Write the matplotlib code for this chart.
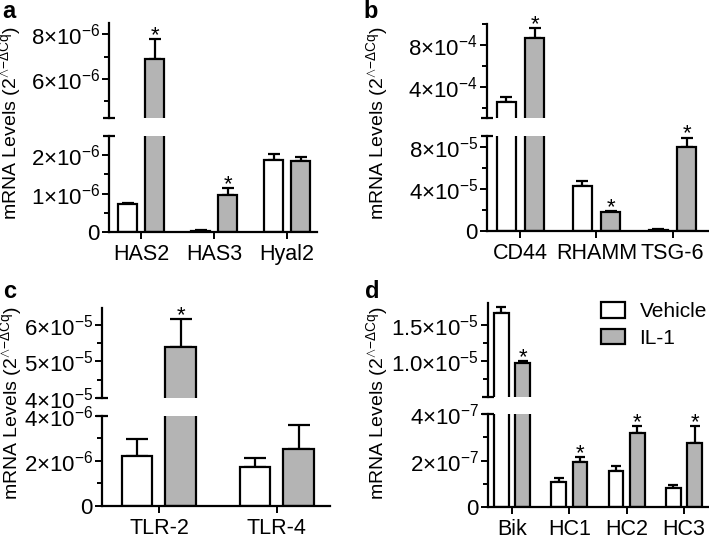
import numpy as np
import matplotlib
matplotlib.use("Agg")
import matplotlib.pyplot as plt
from matplotlib.patches import Patch

plt.rcParams['font.family'] = ['Liberation Sans', 'DejaVu Sans']
plt.rcParams['mathtext.fontset'] = 'custom'
plt.rcParams['mathtext.rm'] = 'Liberation Sans'
plt.rcParams['mathtext.it'] = 'Liberation Sans:italic'
plt.rcParams['mathtext.bf'] = 'Liberation Sans:bold'

W, H = 709, 536
GREY = '#b4b4b4'

# ---- data ----
# panel a
a_genes = ['HAS2', 'HAS3', 'Hyal2']
a_veh = [0.72e-6, 0.03e-6, 1.87e-6]
a_veh_err = [0.03e-6, 0.01e-6, 0.16e-6]
a_il1 = [6.9e-6, 0.97e-6, 1.86e-6]
a_il1_err = [0.9e-6, 0.18e-6, 0.10e-6]
a_sig = [True, True, False]
a_top_ticks = [6e-6, 8e-6]
a_top_labels = [r'$\mathregular{6{\times}10^{-6}}$', r'$\mathregular{8{\times}10^{-6}}$']
a_bot_ticks = [0, 1e-6, 2e-6]
a_bot_labels = ['0', r'$\mathregular{1{\times}10^{-6}}$', r'$\mathregular{2{\times}10^{-6}}$']

# panel b
b_genes = ['CD44', 'RHAMM', 'TSG-6']
b_veh = [2.5e-4, 4.3e-5, 0.1e-5]
b_veh_err = [0.55e-4, 0.45e-5, 0.05e-5]
b_il1 = [8.7e-4, 1.8e-5, 8.0e-5]
b_il1_err = [0.9e-4, 0.13e-5, 0.85e-5]
b_sig = [True, True, True]
b_top_ticks = [4e-4, 8e-4]
b_top_labels = [r'$\mathregular{4{\times}10^{-4}}$', r'$\mathregular{8{\times}10^{-4}}$']
b_bot_ticks = [0, 4e-5, 8e-5]
b_bot_labels = ['0', r'$\mathregular{4{\times}10^{-5}}$', r'$\mathregular{8{\times}10^{-5}}$']

# panel c
c_genes = ['TLR-2', 'TLR-4']
c_veh = [2.22e-6, 1.72e-6]
c_veh_err = [0.74e-6, 0.40e-6]
c_il1 = [5.39e-5, 2.53e-6]
c_il1_err = [0.77e-5, 1.04e-6]
c_sig = [True, False]
c_top_ticks = [4e-5, 5e-5, 6e-5]
c_top_labels = [r'$\mathregular{4{\times}10^{-5}}$', r'$\mathregular{5{\times}10^{-5}}$',
                r'$\mathregular{6{\times}10^{-5}}$']
c_bot_ticks = [0, 2e-6, 4e-6]
c_bot_labels = ['0', r'$\mathregular{2{\times}10^{-6}}$', r'$\mathregular{4{\times}10^{-6}}$']

# panel d
d_genes = ['Bik', 'HC1', 'HC2', 'HC3']
d_veh = [1.66e-5, 1.07e-7, 1.57e-7, 0.82e-7]
d_veh_err = [0.09e-5, 0.20e-7, 0.22e-7, 0.14e-7]
d_il1 = [0.965e-5, 1.96e-7, 3.2e-7, 2.75e-7]
d_il1_err = [0.03e-5, 0.18e-7, 0.29e-7, 0.75e-7]
d_sig = [True, True, True, True]
d_top_ticks = [1.0e-5, 1.5e-5]
d_top_labels = [r'$\mathregular{1.0{\times}10^{-5}}$', r'$\mathregular{1.5{\times}10^{-5}}$']
d_bot_ticks = [0, 2e-7, 4e-7]
d_bot_labels = ['0', r'$\mathregular{2{\times}10^{-7}}$', r'$\mathregular{4{\times}10^{-7}}$']

YLABEL = r'mRNA Levels (2$^{\wedge\mathregular{-}\Delta\mathregular{Cq}}$)'

fig = plt.figure(figsize=(W / 100, H / 100), dpi=100)


def rect(x0, x1, y0, y1):
    # pixel box -> figure fraction
    return [x0 / W, (H - y1) / H, (x1 - x0) / W, (y1 - y0) / H]


def panel(px, ytop, ybot, xlim, genes, veh, veh_err, il1, il1_err, sig,
          top_lim, top_ticks, top_labels, top_minor,
          bot_lim, bot_ticks, bot_labels, bot_minor, capsize):
    ax_t = fig.add_axes(rect(px[0], px[1], ytop[0], ytop[1]))
    ax_b = fig.add_axes(rect(px[0], px[1], ybot[0], ybot[1]))
    x = np.arange(len(genes))
    w = 0.26
    off = 0.185
    for ax in (ax_t, ax_b):
        ax.bar(x - off, veh, w, color='white', edgecolor='black', linewidth=1.6, zorder=2)
        ax.bar(x + off, il1, w, color=GREY, edgecolor='black', linewidth=1.6, zorder=2)
        ax.set_xlim(*xlim)
        for s in ('top', 'right'):
            ax.spines[s].set_visible(False)
        ax.spines['left'].set_linewidth(1.6)
        ax.spines['bottom'].set_linewidth(1.6)
        ax.tick_params(axis='y', which='major', length=5, width=1.4, pad=1.5, labelsize=16)
        ax.tick_params(axis='y', which='minor', length=3.5, width=1.4)
        ax.patch.set_alpha(0)

    # error bars (upper only), drawn in the segment where they end
    for xs, vals, errs in ((x - off, veh, veh_err), (x + off, il1, il1_err)):
        for i in range(len(genes)):
            ax = ax_t if vals[i] + errs[i] > bot_lim[1] else ax_b
            ax.errorbar([xs[i]], [vals[i]], yerr=[[0], [errs[i]]], fmt='none',
                        ecolor='black', elinewidth=1.6, capsize=capsize, capthick=1.6, zorder=1)

    ax_t.set_ylim(*top_lim)
    ax_t.set_yticks(top_ticks)
    ax_t.set_yticklabels(top_labels)
    ax_t.set_yticks(top_minor, minor=True)
    ax_t.spines['bottom'].set_visible(False)
    ax_t.set_xticks([])

    ax_b.set_ylim(*bot_lim)
    ax_b.set_yticks(bot_ticks)
    ax_b.set_yticklabels(bot_labels)
    ax_b.set_yticks(bot_minor, minor=True)
    ax_b.set_xticks(x)
    ax_b.set_xticklabels(genes, fontsize=15.5)
    ax_b.tick_params(axis='x', length=5, width=1.4, pad=3.5)

    # break caps
    ax_t.plot([0], [0], marker='_', ms=9, mew=1.6, color='black',
              transform=ax_t.transAxes, clip_on=False)
    ax_b.plot([0], [1], marker='_', ms=9, mew=1.6, color='black',
              transform=ax_b.transAxes, clip_on=False)

    # asterisks
    for i in range(len(genes)):
        if not sig[i]:
            continue
        yv = il1[i] + il1_err[i]
        ax = ax_t if yv > bot_lim[1] else ax_b
        ax.annotate('*', (x[i] + off, yv), xytext=(0, -1.5), textcoords='offset points',
                    ha='center', va='baseline', fontsize=16, annotation_clip=False)
    return ax_t, ax_b


panel((109, 317), (23, 118), (136, 232), (-0.44, 2.41),
      a_genes, a_veh, a_veh_err, a_il1, a_il1_err, a_sig,
      (4.25e-6, 8.5e-6), a_top_ticks, a_top_labels, [5e-6, 7e-6],
      (0, 2.5e-6), a_bot_ticks, a_bot_labels, [0.5e-6, 1.5e-6], 4.5)

panel((487, 709), (24, 118), (136, 231), (-0.44, 2.48),
      b_genes, b_veh, b_veh_err, b_il1, b_il1_err, b_sig,
      (1e-4, 1e-3), b_top_ticks, b_top_labels, [2e-4, 6e-4, 1e-3],
      (0, 9e-5), b_bot_ticks, b_bot_labels, [2e-5, 6e-5], 4.5)

panel((102, 330), (308, 398), (415.7, 506), (-0.483, 1.45),
      c_genes, c_veh, c_veh_err, c_il1, c_il1_err, c_sig,
      (4e-5, 6.46e-5), c_top_ticks, c_top_labels, [4.5e-5, 5.5e-5],
      (0, 4e-6), c_bot_ticks, c_bot_labels, [1e-6, 3e-6], 8)

panel((488, 708), (303, 396.7), (414, 507.3), (-0.42, 3.42),
      d_genes, d_veh, d_veh_err, d_il1, d_il1_err, d_sig,
      (0.5e-5, 1.8e-5), d_top_ticks, d_top_labels, [0.75e-5, 1.25e-5],
      (0, 4e-7), d_bot_ticks, d_bot_labels, [1e-7, 3e-7], 3.5)

# y labels
for xp, yp in [(10, 123), (377, 123), (11, 403), (377, 403)]:
    fig.text(xp / W, 1 - yp / H, YLABEL, rotation=90, ha='center', va='center', fontsize=14)

# panel letters
for lt, xp, yp in [('a', 2, 18), ('b', 363, 18), ('c', 3, 298), ('d', 365, 298)]:
    fig.text(xp / W, 1 - yp / H, lt, fontsize=17, fontweight='bold', ha='left', va='baseline')

handles = [Patch(facecolor='white', edgecolor='black', linewidth=1.6),
           Patch(facecolor=GREY, edgecolor='black', linewidth=1.6)]
fig.legend(handles, ['Vehicle', 'IL-1'], loc='upper left',
           bbox_to_anchor=(601 / W, 1 - 302 / H), frameon=False, fontsize=15,
           handlelength=1.15, handleheight=0.8, handletextpad=0.7,
           labelspacing=0.35, borderpad=0, borderaxespad=0)

fig.savefig('out.png', dpi=100)
